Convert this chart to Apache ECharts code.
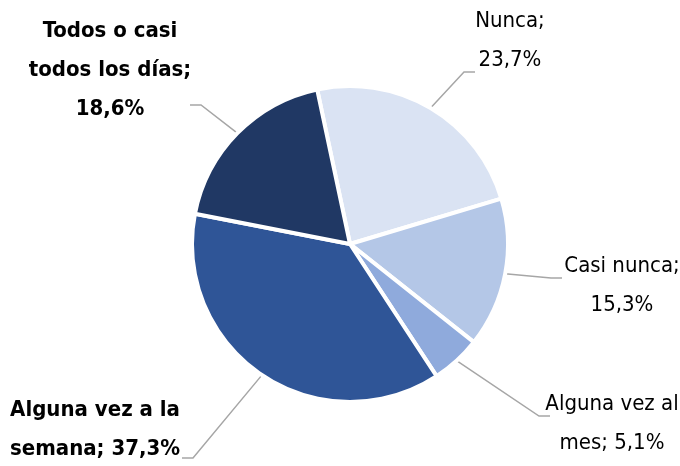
<!DOCTYPE html>
<html lang="es">
<head>
    <meta charset="UTF-8">
    <title>Frecuencia</title>
    <script src="https://cdn.jsdelivr.net/npm/echarts@6/dist/echarts.min.js"></script>
    <style>
        html, body {margin: 0; padding: 0; background: #fff;}
    </style>
</head>
<body>
<div id="pieChart" style="width: 680px;height: 466px"></div>

<script type="text/javascript">
    // datos (orden horario desde arriba)
    var categories = ['Nunca', 'Casi nunca', 'Alguna vez al mes', 'Alguna vez a la semana', 'Todos o casi todos los días'];
    var labelTexts = ['Nunca;\n23,7%', 'Casi nunca;\n15,3%', 'Alguna vez al\nmes; 5,1%', 'Alguna vez a la\nsemana; 37,3%', 'Todos o casi\ntodos los días;\n18,6%'];
    var values = [23.7, 15.3, 5.1, 37.3, 18.6];
    var colors = ['#dae3f3', '#b4c7e7', '#8faadc', '#2f5597', '#203864'];
    var boldLabel = [false, false, false, true, true];
    // centro de cada etiqueta y punto final de su linea guia
    var labelPos = [[510, 41], [622, 286], [612, 424], [95, 430], [110, 70]];
    var lineEnd = [[475, 72], [562, 278], [550, 416], [182, 458], [190, 105]];

    var dom = document.getElementById("pieChart");
    var myChart = echarts.init(dom);

    var pieData = [];
    for (var i = 0; i < values.length; i++) {
        pieData.push({
            name: categories[i],
            value: values[i],
            itemStyle: {color: colors[i]},
            label: {
                formatter: labelTexts[i],
                fontWeight: boldLabel[i] ? 'bold' : 'normal'
            }
        });
    }

    var option = {
        animation: false,
        series: [
            {
                type: 'pie',
                center: [350, 244],
                radius: 158,
                startAngle: 102,
                clockwise: true,
                itemStyle: {
                    borderColor: '#fff',
                    borderWidth: 4
                },
                label: {
                    show: true,
                    position: 'outside',
                    color: '#000',
                    fontSize: 22,
                    lineHeight: 39,
                    align: 'center',
                    fontFamily: "'Liberation Sans Narrow', 'DejaVu Sans Condensed', sans-serif"
                },
                labelLine: {
                    show: true,
                    length: 20,
                    length2: 10,
                    lineStyle: {color: '#a6a6a6', width: 1.5}
                },
                labelLayout: function (params) {
                    var i = params.dataIndex;
                    var p = labelPos[i];
                    var e = lineEnd[i];
                    var start = params.labelLinePoints[0];
                    var dir = e[0] > 350 ? -1 : 1;
                    return {
                        x: p[0],
                        y: p[1],
                        align: 'center',
                        verticalAlign: 'middle',
                        labelLinePoints: [start, [e[0] + dir * 11, e[1]], e]
                    };
                },
                data: pieData
            }
        ]
    };

    myChart.setOption(option);
</script>
</body>
</html>
